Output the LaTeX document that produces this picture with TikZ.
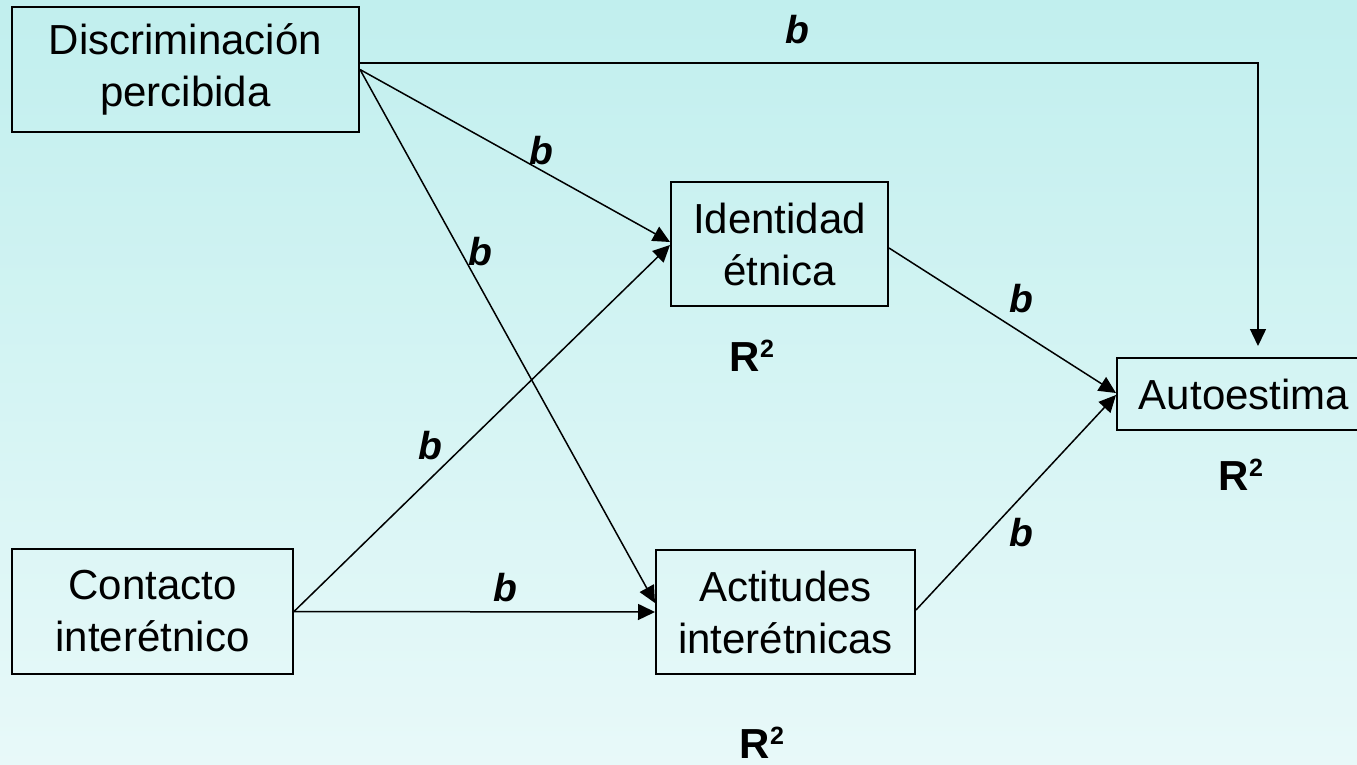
\documentclass[tikz,border=0pt]{standalone}
\usepackage{fontspec}
\setmainfont{Liberation Sans}
\usetikzlibrary{arrows.meta}
\definecolor{bgtop}{RGB}{193,239,238}
\definecolor{bgbot}{RGB}{232,249,249}
\newcommand{\rsqtext}{R\raisebox{14pt}{\fontsize{25}{25}\selectfont\bfseries 2}}
\tikzset{
  box/.style={draw=black, line width=2pt, align=center, inner sep=0pt,
    font=\fontsize{42}{52}\selectfont},
  conn/.style={line width=1.5pt, -{Triangle[length=17pt,width=16pt]}},
  coef/.style={font=\fontsize{39}{39}\selectfont\bfseries\itshape, inner sep=0pt},
  rsq/.style={font=\fontsize{42}{42}\selectfont\bfseries, inner sep=0pt}
}
\begin{document}
\begin{tikzpicture}[x=1pt,y=-1pt]
\useasboundingbox (0,0) rectangle (1357,765);
\shade[top color=bgtop, bottom color=bgbot] (0,0) rectangle (1357,765);
\begin{scope}
\clip (0,0) rectangle (1357,765);
\node[box, minimum width=347pt, minimum height=125pt] (disc) at (185.5,69.5) {Discriminación\\percibida};
\node[box, minimum width=217pt, minimum height=124pt] (iden) at (779.5,244) {Identidad\\étnica};
\node[box, minimum width=243pt, minimum height=72pt] (auto) at (1238.5,394) {};
\node[font=\fontsize{42}{52}\selectfont, inner sep=0pt] (autotxt) at (1244,394) {Autoestima};
\node[box, minimum width=281pt, minimum height=125pt] (cont) at (152.5,611.5) {Contacto\\interétnico};
\node[box, minimum width=259pt, minimum height=124pt] (acti) at (785.5,612) {Actitudes\\interétnicas};
\end{scope}
\coordinate (topend) at (1258,346);
\draw[conn] ([yshift=6.5pt]disc.east) -| (topend);
\draw[conn] (disc.east) -- ([yshift=2pt]iden.west);
\draw[conn] (disc.east) -- ([yshift=9pt]acti.west);
\draw[conn] (cont.east) -- ([yshift=-1pt]iden.west);
\draw[conn] (cont.east) -- (acti.west);
\draw[conn] ([yshift=-4pt]iden.east) -- ([yshift=1pt]auto.west);
\draw[conn] ([yshift=2pt]acti.east) -- ([yshift=-1pt]auto.west);
\node[coef] (b1) at (797,30) {b};
\node[coef] (b2) at (541,151) {b};
\node[coef] (b3) at (480,252) {b};
\node[coef] (b4) at (430,446) {b};
\node[coef] (b5) at (505,588) {b};
\node[coef] (b6) at (1021,299) {b};
\node[coef] (b7) at (1021,533) {b};
\node[rsq] (r1) at (752,356) {\rsqtext};
\node[rsq] (r2) at (1241,475) {\rsqtext};
\node[rsq] (r3) at (762,743) {\rsqtext};
\end{tikzpicture}
\end{document}
